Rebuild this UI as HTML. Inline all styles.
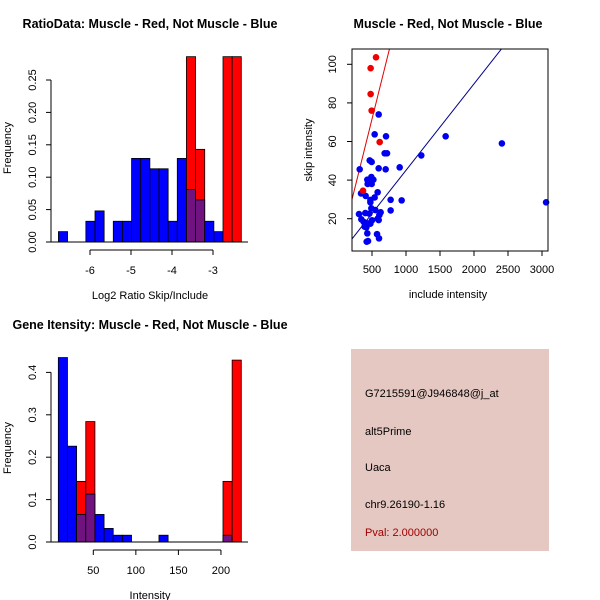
<!DOCTYPE html>
<html><head><meta charset="utf-8">
<style>
body{margin:0;background:#fff;}
svg{display:block;font-family:"Liberation Sans",sans-serif;}
</style></head>
<body>
<svg id="c" width="600" height="600" xmlns="http://www.w3.org/2000/svg">
<rect x="0" y="0" width="600" height="600" fill="#fff"/>
<text x="150" y="28" text-anchor="middle" font-size="12.5" font-weight="bold">RatioData: Muscle - Red, Not Muscle - Blue</text>
<text x="448" y="28" text-anchor="middle" font-size="12.5" font-weight="bold">Muscle - Red, Not Muscle - Blue</text>
<text x="150" y="329" text-anchor="middle" font-size="12.5" font-weight="bold">Gene Itensity: Muscle - Red, Not Muscle - Blue</text>
<g id="p1"></g>
<g id="p2"></g>
<g id="p3"></g>
<g>
<rect x="351" y="349" width="198" height="202" fill="#e5c8c2"/>
<text x="365" y="397" font-size="11">G7215591@J946848@j_at</text>
<text x="365" y="435" font-size="11">alt5Prime</text>
<text x="365" y="471" font-size="11">Uaca</text>
<text x="365" y="508" font-size="11">chr9.26190-1.16</text>
<text x="365" y="536" font-size="11" fill="#a00000">Pval: 2.000000</text>
</g>
</svg>
<script>
// ---- Ratio histogram data ----
const ratioBinStart = -6.77;
const ratioBinWidth = 0.223;
const ratioBlue = [0.016,0,0,0.032,0.048,0,0.032,0.032,0.129,0.129,0.113,0.113,0.032,0.129,0.081,0.065,0.032,0.016,0,0];
const ratioRed  = [0,0,0,0,0,0,0,0,0,0,0,0,0,0,0.286,0.143,0,0,0.286,0.286];
const ratioXTicks = [-6,-5,-4,-3];
const ratioYTicks = [0,0.05,0.10,0.15,0.20,0.25];
const ratioYLabels = ["0.00","0.05","0.10","0.15","0.20","0.25"];
// ---- Scatter data ----
const redX = [559,480,480,495,613,368];
const redY = [103.6,98,84.6,76,59.7,34.5];
const blueX = [598,539,706,1583,2410,686,721,1225,466,495,598,907,701,319,490,431,520,436,495,583,338,407,539,476,476,774,936,3060,490,549,774,627,309,402,461,608,343,500,583,598,377,431,476,392,417,574,431,603,422,441];
const blueY = [74,63.7,62.7,62.7,59,53.9,53.9,52.8,50.2,49.4,46.1,46.6,45.6,45.6,41.6,40.2,40.2,38,38,33.7,33.1,31.8,31,29.7,28.5,29.8,29.5,28.5,25.4,24.5,24.3,23.3,22.4,22.9,22.6,21.9,19.7,19.2,20,19.3,18.4,17.6,17.4,15.9,15.5,12,12.4,9.8,8.1,8.4];
const redSlope = 0.1416, redIntercept = 0.8;
const blueSlope = 0.0448, blueIntercept = 0.27;
const scXTicks = [500,1000,1500,2000,2500,3000];
const scYTicks = [20,40,60,80,100];
// ---- Intensity histogram data ----
const intBinStart = 8.9;
const intBinWidth = 10.75;
const intBlue = [0.435,0.226,0.065,0.113,0.065,0.032,0.016,0.016,0,0,0,0.016,0,0,0,0,0,0,0.016,0];
const intRed  = [0,0,0.143,0.284,0,0,0,0,0,0,0,0,0,0,0,0,0,0,0.143,0.429];
const intXTicks = [50,100,150,200];
const intYTicks = [0,0.1,0.2,0.3,0.4];
const intYLabels = ["0.0","0.1","0.2","0.3","0.4"];

const NS="http://www.w3.org/2000/svg";
function mk(parent,tag,attrs){const e=document.createElementNS(NS,tag);for(const k in attrs)e.setAttribute(k,attrs[k]);parent.appendChild(e);return e;}

function histogram(g,o){
  const sx=v=>o.x0+(v-o.xv0)*o.kx, sy=v=>o.y0-v*o.ky;
  const n=o.blue.length;
  for(let i=0;i<n;i++){
    const a=sx(o.start+i*o.w), b=sx(o.start+(i+1)*o.w);
    const bv=o.blue[i], rv=o.red[i];
    if(rv>0){const r=mk(g,'rect',{x:a,y:sy(rv),width:b-a,height:sy(0)-sy(rv),fill:'#ff0000',stroke:'#000','stroke-width':0.8});
      
      }
    if(bv>0){const fill=rv>0?'#70127f':'#0000ff';
      const r=mk(g,'rect',{x:a,y:sy(bv),width:b-a,height:sy(0)-sy(bv),fill:fill,stroke:'#000','stroke-width':0.8});
      
      }
  }
  mk(g,'line',{x1:51,x2:248,y1:o.y0,y2:o.y0,stroke:'#000'});
  // y axis
  const yt=o.yTicks;
  mk(g,'line',{x1:51,x2:51,y1:sy(yt[0]),y2:sy(yt[yt.length-1]),stroke:'#000'});
  yt.forEach((t,i)=>{const y=sy(t);mk(g,'line',{x1:46,x2:51,y1:y,y2:y,stroke:'#000'});
    const tx=mk(g,'text',{x:36,y:y,'font-size':11,'text-anchor':'middle',transform:`rotate(-90 36 ${y})`});tx.textContent=o.yLabels[i];
    
    });
  // x axis
  const xt=o.xTicks, ay=o.y0+8;
  mk(g,'line',{x1:sx(xt[0]),x2:sx(xt[xt.length-1]),y1:ay,y2:ay,stroke:'#000'});
  xt.forEach(t=>{const x=sx(t);mk(g,'line',{x1:x,x2:x,y1:ay,y2:ay+5,stroke:'#000'});
    const tx=mk(g,'text',{x:x,y:ay+24,'font-size':11,'text-anchor':'middle'});tx.textContent=t;
    
    });
  const xl=mk(g,'text',{x:150,y:o.y0+57,'font-size':11,'text-anchor':'middle'});xl.textContent=o.xLabel;
  
  
  const cy=o.y0-94;
  const yl=mk(g,'text',{x:11,y:cy,'font-size':11,'text-anchor':'middle',transform:`rotate(-90 11 ${cy})`});yl.textContent='Frequency';
  
  
}
histogram(document.getElementById('p1'),{x0:90,xv0:-6,kx:41,y0:242,ky:648,start:ratioBinStart,w:ratioBinWidth,blue:ratioBlue,red:ratioRed,xTicks:ratioXTicks,yTicks:ratioYTicks,yLabels:ratioYLabels,xLabel:'Log2 Ratio Skip/Include'});
histogram(document.getElementById('p3'),{x0:93.3,xv0:50,kx:0.851,y0:542,ky:424,start:intBinStart,w:intBinWidth,blue:intBlue,red:intRed,xTicks:intXTicks,yTicks:intYTicks,yLabels:intYLabels,xLabel:'Intensity'});

// scatter
(function(){
  const g=document.getElementById('p2');
  const L=352,R=548,T=49,B=251;
  const sx=v=>372+(v-500)*0.068, sy=v=>218.7-(v-20)*1.93;
  const ix=p=>500+(p-372)/0.068;
  mk(g,'clipPath',{id:'clp'});
  mk(document.getElementById('clp'),'rect',{x:L,y:T,width:R-L,height:B-T});
  [[redSlope,redIntercept,'#e00000','red-fit-line'],[blueSlope,blueIntercept,'#00008b','blue-fit-line']].forEach(([m,b,c,nm])=>{
    const xa=ix(L),xb=ix(R);
    const ln=mk(g,'line',{x1:sx(xa),y1:sy(b+m*xa),x2:sx(xb),y2:sy(b+m*xb),stroke:c,'stroke-width':1,'clip-path':'url(#clp)'});
    
    
  });
  blueX.forEach((v,i)=>{const p=mk(g,'circle',{cx:sx(v),cy:sy(blueY[i]),r:3.3,fill:'#0000ee'});
    
    });
  redX.forEach((v,i)=>{const p=mk(g,'circle',{cx:sx(v),cy:sy(redY[i]),r:3.3,fill:'#ee0000'});
    
    });
  mk(g,'rect',{x:L,y:T,width:R-L,height:B-T,fill:'none',stroke:'#000'});
  scXTicks.forEach(t=>{const x=sx(t);mk(g,'line',{x1:x,x2:x,y1:B,y2:B+5,stroke:'#000'});
    const tx=mk(g,'text',{x:x,y:B+22,'font-size':11,'text-anchor':'middle'});tx.textContent=t;
    
    });
  scYTicks.forEach(t=>{const y=sy(t);mk(g,'line',{x1:L-5,x2:L,y1:y,y2:y,stroke:'#000'});
    const tx=mk(g,'text',{x:336,y:y,'font-size':11,'text-anchor':'middle',transform:`rotate(-90 336 ${y})`});tx.textContent=t;
    
    });
  const xl=mk(g,'text',{x:448,y:298,'font-size':11,'text-anchor':'middle'});xl.textContent='include intensity';
  
  
  const yl=mk(g,'text',{x:312,y:150,'font-size':11,'text-anchor':'middle',transform:'rotate(-90 312 150)'});yl.textContent='skip intensity';
  
  
})();
</script>
</body></html>
